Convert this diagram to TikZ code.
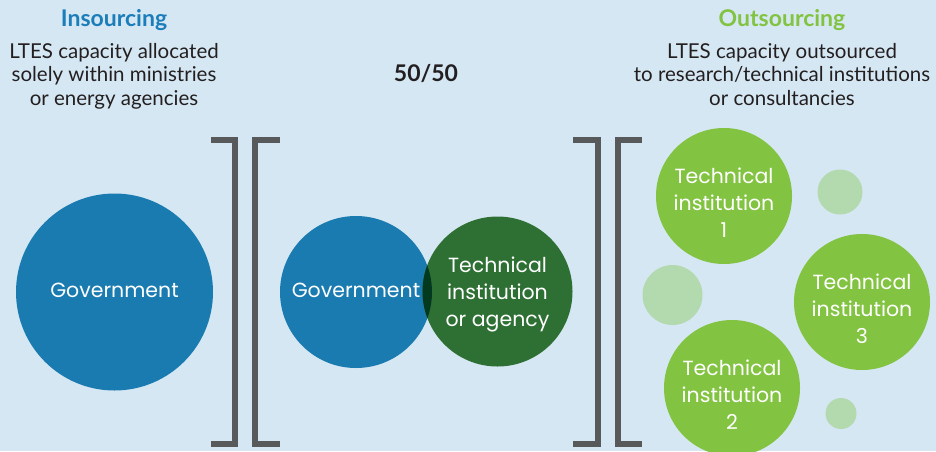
\documentclass[tikz,border=0pt]{standalone}
\usepackage{fontspec}
\setmainfont{Lato}
\newfontfamily\circfont{Poppins}
\definecolor{bgc}{HTML}{D5E7F3}
\definecolor{govblue}{HTML}{1A7BB1}
\definecolor{dkgreen}{HTML}{2E7033}
\definecolor{ltgreen}{HTML}{82C341}
\definecolor{pagreen}{HTML}{B3D9AE}
\definecolor{overlapc}{HTML}{03391F}
\definecolor{brgray}{HTML}{58595B}
\definecolor{txtc}{HTML}{231F20}
\definecolor{inblue}{HTML}{1B7DBA}
\begin{document}
\begin{tikzpicture}[x=1pt,y=-1pt,
  circ/.style={circle,inner sep=0pt},
  ctext/.style={inner sep=0pt,text=white,align=center,font=\circfont\fontsize{20.5}{27}\selectfont},
  blob/.style={circle,inner sep=0pt,fill=pagreen},
  brk/.style={draw=brgray,line width=6pt},
  head/.style={font=\fontsize{23}{24}\selectfont\bfseries,anchor=base},
  desc/.style={font=\fontsize{20.5}{23.5}\selectfont,text=txtc,align=center,anchor=north,inner sep=0pt}]
\fill[bgc] (0,0) rectangle (936,451);
\useasboundingbox (0,0) rectangle (936,451);
% headers
\node[head,text=inblue] (hin) at (114,26) {Insourcing};
\node[desc] (din) at (114,43) {LTES capacity allocated\\solely within ministries\\or energy agencies};
\node[head,text=txtc] (h50) at (426,81) {50/50};
\node[head,text=ltgreen] (hout) at (782,26) {Outsourcing};
\node[desc] (dout) at (782,43) {LTES capacity outsourced\\to research/technical institutions\\or consultancies};
% brackets
\coordinate (b1a) at (211,140); \coordinate (b1b) at (235,140);
\coordinate (b1c) at (235,444); \coordinate (b1d) at (211,444);
\draw[brk] (b1a) -- (b1b) -- (b1c) -- (b1d);
\coordinate (b2a) at (280,140); \coordinate (b2b) at (255,140);
\coordinate (b2c) at (255,444); \coordinate (b2d) at (280,444);
\draw[brk] (b2a) -- (b2b) -- (b2c) -- (b2d);
\coordinate (b3a) at (573,140); \coordinate (b3b) at (598,140);
\coordinate (b3c) at (598,444); \coordinate (b3d) at (573,444);
\draw[brk] (b3a) -- (b3b) -- (b3c) -- (b3d);
\coordinate (b4a) at (642,140); \coordinate (b4b) at (618,140);
\coordinate (b4c) at (618,444); \coordinate (b4d) at (642,444);
\draw[brk] (b4a) -- (b4b) -- (b4c) -- (b4d);
% circles
\node[circ,fill=govblue,minimum size=197pt] (gov1) at (114.5,292) {};
\node[ctext] (gov1t) at (114.5,290) {Government};
\node[circ,fill=govblue,minimum size=152pt] (gov2) at (356,292) {};
\node[circ,fill=dkgreen,minimum size=150pt] (tia) at (497.5,291.5) {};
\begin{scope}
\clip (356,292) circle (76pt);
\fill[overlapc] (497.5,291.5) circle (75pt);
\end{scope}
\node[ctext] (gov2t) at (356,290) {Government};
\node[ctext] (tiat) at (497.5,294.5) {Technical\\institution\\or agency};
\node[blob,minimum size=45pt] (p1) at (840,192) {};
\node[blob,minimum size=60pt] (p2) at (672.5,295) {};
\node[blob,minimum size=31pt] (p3) at (841,413.5) {};
\node[circ,fill=ltgreen,minimum size=136pt] (ti1) at (724,196) {};
\node[ctext] (ti1t) at (724,203) {Technical\\institution\\1};
\node[circ,fill=ltgreen,minimum size=136pt] (ti3) at (862,302) {};
\node[ctext] (ti3t) at (862,309) {Technical\\institution\\3};
\node[circ,fill=ltgreen,minimum size=136pt] (ti2) at (732,388) {};
\node[ctext] (ti2t) at (732,394.5) {Technical\\institution\\2};
\end{tikzpicture}
\end{document}
